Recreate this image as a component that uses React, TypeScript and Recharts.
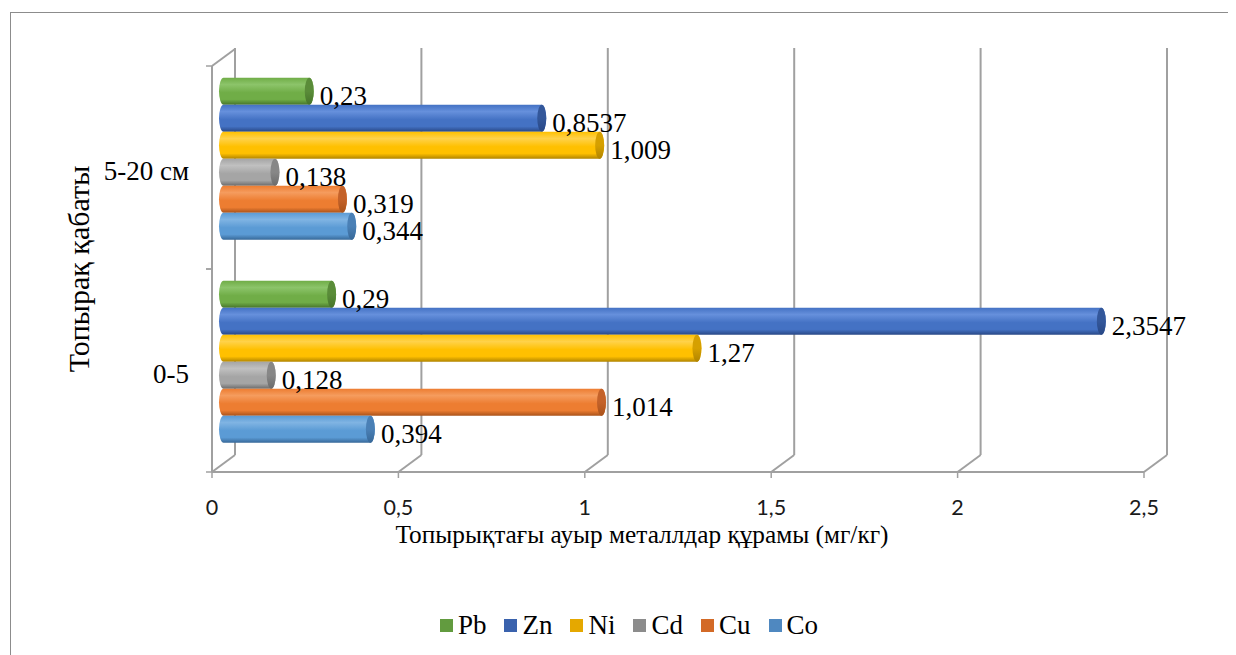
import React from 'react';
import { BarChart, Bar, XAxis, YAxis, CartesianGrid, Legend, LabelList, Label } from 'recharts';

// ---- data ----
const CATEGORIES = ['5-20 см', '0-5'];
const SERIES_NAMES = ['Pb', 'Zn', 'Ni', 'Cd', 'Cu', 'Co'];
const PB_VALUES = [0.23, 0.29];
const ZN_VALUES = [0.8537, 2.3547];
const NI_VALUES = [1.009, 1.27];
const CD_VALUES = [0.138, 0.128];
const CU_VALUES = [0.319, 1.014];
const CO_VALUES = [0.344, 0.394];
const X_TICKS = [0, 0.5, 1, 1.5, 2, 2.5];
const X_TITLE = 'Топырықтағы ауыр металлдар құрамы (мг/кг)';
const Y_TITLE = 'Топырақ қабаты';

const SERIES_VALUES = [PB_VALUES, ZN_VALUES, NI_VALUES, CD_VALUES, CU_VALUES, CO_VALUES];

const data = CATEGORIES.map((cat, i) => {
  const row: Record<string, any> = { cat };
  SERIES_NAMES.forEach((n, j) => {
    row[n] = SERIES_VALUES[j][i];
  });
  return row;
});

// ---- styles ----
const STYLES: Record<string, { base: string; light: string; dark: string; cap: string; legend: string }> = {
  Pb: { base: '#70AD47', light: '#8cc46a', dark: '#46742a', cap: '#5a8c39', legend: '#629b3f' },
  Zn: { base: '#4472C4', light: '#6690dc', dark: '#284785', cap: '#33579a', legend: '#3a62ad' },
  Ni: { base: '#FFC000', light: '#ffd24a', dark: '#b08400', cap: '#d6a000', legend: '#e5a800' },
  Cd: { base: '#A5A5A5', light: '#c0c0c0', dark: '#6b6b6b', cap: '#878787', legend: '#8c8c8c' },
  Cu: { base: '#ED7D31', light: '#f59c5e', dark: '#a9521a', cap: '#c4622a', legend: '#d36a27' },
  Co: { base: '#5B9BD5', light: '#80b4e3', dark: '#376898', cap: '#4a80b6', legend: '#4f88c0' },
};

const W = 1228;
const H = 647;
const PLOT_LEFT = 204;
const PLOT_TOP = 58;
const PLOT_BOTTOM = 464;
const PLOT_H = PLOT_BOTTOM - PLOT_TOP;
const DX = 23;
const DY = 17;
const BX = DX / 2;
const BY = DY / 2;
const RX = 4.5;
const TICK_SIZE = 6;
const TICK_MARGIN = 16;
const LINE = '#a0a0a0';
const SERIF = '"Liberation Serif", "Times New Roman", serif';
const SANS = 'Lato, "Open Sans", sans-serif';

const fmt = (v: number) => String(v).replace('.', ',');

const Cylinder = (props: any) => {
  const { x, y, width, height, name, index } = props;
  const s = STYLES[name];
  if (!s || width == null) return null;
  const x0 = x + BX;
  const y0 = y - BY;
  const w = Math.max(0, width);
  const h = height;
  const ry = h / 2;
  const id = `cyl-${name}-${index}`;
  const capId = `cap-${name}-${index}`;
  const d = `M${x0},${y0} L${x0 + w},${y0} A${RX},${ry} 0 0 1 ${x0 + w},${y0 + h} L${x0},${y0 + h} A${RX},${ry} 0 0 1 ${x0},${y0} Z`;
  return (
    <g>
      <defs>
        <linearGradient id={id} x1="0" y1="0" x2="0" y2="1">
          <stop offset="0" stopColor={s.base} />
          <stop offset="0.25" stopColor={s.light} />
          <stop offset="0.55" stopColor={s.base} />
          <stop offset="0.8" stopColor={s.base} />
          <stop offset="1" stopColor={s.dark} />
        </linearGradient>
        <linearGradient id={capId} x1="0" y1="0" x2="0" y2="1">
          <stop offset="0" stopColor={s.cap} />
          <stop offset="0.5" stopColor={s.cap} />
          <stop offset="1" stopColor={s.dark} />
        </linearGradient>
      </defs>
      <path d={d} fill={`url(#${id})`} />
      <ellipse cx={x0 + w} cy={y0 + ry} rx={RX} ry={ry} fill={`url(#${capId})`} />
    </g>
  );
};

const makeLabel = () => (props: any) => {
  const { x, y, width, height, value } = props;
  if (value == null) return null;
  return (
    <text
      x={x + BX + width + RX + 6}
      y={y - BY + height / 2 + 5}
      fontFamily={SERIF}
      fontSize={27}
      fill="#000"
      dominantBaseline="central"
      textAnchor="start"
    >
      {fmt(value)}
    </text>
  );
};

const XTick = (props: any) => {
  const { x, y, payload } = props;
  const axisY = y - TICK_SIZE - TICK_MARGIN;
  return (
    <g>
      <line x1={x} y1={axisY} x2={x + DX} y2={axisY - DY} stroke={LINE} strokeWidth={2} />
      {payload.value === 0 && (
        <line x1={x} y1={axisY - PLOT_H} x2={x + DX} y2={axisY - PLOT_H - DY} stroke={LINE} strokeWidth={2} />
      )}
      <text
        x={x}
        y={y + 12.5}
        textAnchor="middle"
        dominantBaseline="central"
        fontFamily={SANS}
        fontSize={21.5}
        fill="#1a1a1a"
      >
        {fmt(payload.value)}
      </text>
    </g>
  );
};

const YTick = (props: any) => {
  const { y, payload } = props;
  const half = PLOT_H / CATEGORIES.length / 2;
  return (
    <g>
      <line x1={PLOT_LEFT - 6} y1={y - half} x2={PLOT_LEFT} y2={y - half} stroke={LINE} strokeWidth={1.5} />
      <line x1={PLOT_LEFT - 6} y1={y + half} x2={PLOT_LEFT} y2={y + half} stroke={LINE} strokeWidth={1.5} />
      <text
        x={PLOT_LEFT - 23}
        y={y + 3}
        textAnchor="end"
        dominantBaseline="central"
        fontFamily={SERIF}
        fontSize={27}
        fill="#000"
      >
        {payload.value}
      </text>
    </g>
  );
};

const XTitle = (props: any) => {
  const vb = props.viewBox || { x: PLOT_LEFT, y: PLOT_BOTTOM, width: 932, height: 40 };
  return (
    <text
      x={vb.x + vb.width / 2 - 36}
      y={vb.y + 71}
      textAnchor="middle"
      fontFamily={SERIF}
      fontSize={25.3}
      fill="#000"
    >
      {X_TITLE}
    </text>
  );
};

const YTitle = (props: any) => {
  const vb = props.viewBox || { x: 14, y: PLOT_TOP, width: 190, height: PLOT_H };
  const cx = 81;
  const cy = vb.y + vb.height / 2;
  return (
    <text
      x={cx}
      y={cy}
      transform={`rotate(-90 ${cx} ${cy})`}
      textAnchor="middle"
      fontFamily={SERIF}
      fontSize={30}
      fill="#000"
    >
      {Y_TITLE}
    </text>
  );
};

const LegendContent = (props: any) => {
  const payload = [...(props.payload || [])].sort(
    (a: any, b: any) => SERIES_NAMES.indexOf(a.dataKey) - SERIES_NAMES.indexOf(b.dataKey)
  );
  return (
    <div
      style={{
        display: 'flex',
        justifyContent: 'center',
        alignItems: 'center',
        height: 40,
        paddingLeft: 32,
        boxSizing: 'border-box',
      }}
    >
      {payload.map((p: any) => (
        <div key={p.dataKey} style={{ display: 'flex', alignItems: 'center', marginRight: 18 }}>
          <span style={{ display: 'inline-block', width: 13, height: 13, background: STYLES[p.dataKey].legend, marginRight: 5 }} />
          <span style={{ fontFamily: SERIF, fontSize: 27, color: '#000', lineHeight: '30px' }}>{p.value}</span>
        </div>
      ))}
    </div>
  );
};

const gridGen = (args: any) => {
  const xAxis = args && args.xAxis;
  const off = args && args.offset;
  return X_TICKS.map((t) => {
    if (xAxis && typeof xAxis.scale === 'function') return xAxis.scale(t) + DX;
    const left = off ? off.left : PLOT_LEFT;
    const width = off ? off.width : 932;
    return left + (t / 2.5) * width + DX;
  });
};

export default function App() {
  return (
    <div style={{ position: 'relative', width: W, height: H }}>
      <style>{'html,body{overflow:hidden}'}</style>
      <div
        style={{
          position: 'absolute',
          left: 2,
          top: 4,
          width: W - 2,
          height: H - 4,
          borderTop: '1px solid #8c8c8c',
          borderLeft: '1px solid #8c8c8c',
          boxSizing: 'border-box',
          pointerEvents: 'none',
        }}
      />
      <BarChart
        width={W}
        height={H}
        data={data}
        layout="vertical"
        margin={{ top: PLOT_TOP, right: W - 1136, left: 14, bottom: 103 }}
        barCategoryGap="10%"
        barGap={0}
      >
        <CartesianGrid
          vertical
          horizontal={false}
          y={PLOT_TOP - DY - 1}
          height={PLOT_H + 1}
          stroke={LINE}
          strokeWidth={2}
          verticalCoordinatesGenerator={gridGen}
        />
        <XAxis
          type="number"
          domain={[0, 2.5]}
          ticks={X_TICKS}
          interval={0}
          height={40}
          tickSize={TICK_SIZE}
          tickMargin={TICK_MARGIN}
          axisLine={{ stroke: LINE, strokeWidth: 2 }}
          tickLine={{ stroke: LINE, strokeWidth: 1.5 }}
          tick={<XTick />}
        >
          <Label content={<XTitle />} />
        </XAxis>
        <YAxis
          type="category"
          dataKey="cat"
          width={190}
          axisLine={{ stroke: LINE, strokeWidth: 2 }}
          tickLine={false}
          tick={<YTick />}
        >
          <Label content={<YTitle />} />
        </YAxis>
        <Legend
          verticalAlign="bottom"
          content={<LegendContent />}
          wrapperStyle={{ top: 597, bottom: 'auto', left: 0, width: W, height: 40 }}
        />
        {SERIES_NAMES.map((n) => (
          <Bar
            key={n}
            dataKey={n}
            name={n}
            fill={STYLES[n].legend}
            isAnimationActive={false}
            shape={(p: any) => <Cylinder {...p} name={n} />}
          >
            <LabelList dataKey={n} content={makeLabel()} />
          </Bar>
        ))}
      </BarChart>
    </div>
  );
}
